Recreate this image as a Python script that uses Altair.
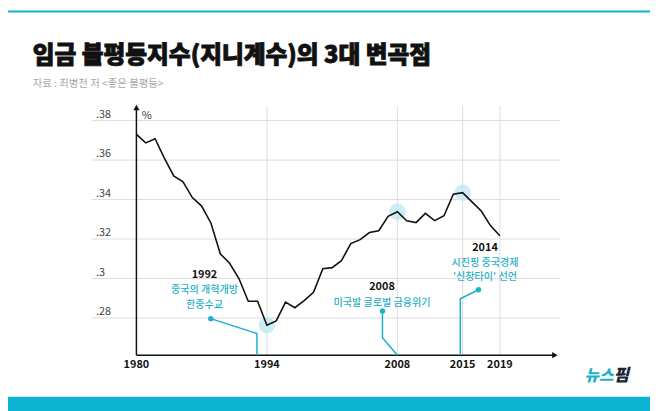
import altair as alt
import pandas as pd

# ---------------- data ----------------
years = list(range(1980, 2020))
gini = [0.373, 0.3687, 0.3708, 0.361, 0.352, 0.349, 0.341, 0.3367, 0.328, 0.3125,
        0.3077, 0.300, 0.2885, 0.2885, 0.2763, 0.2785, 0.288, 0.2852, 0.2888, 0.293,
        0.305, 0.3055, 0.309, 0.3177, 0.3197, 0.3233, 0.3242, 0.3315, 0.3338, 0.3292,
        0.3283, 0.333, 0.3293, 0.3318, 0.3427, 0.3435, 0.3388, 0.3342, 0.3267, 0.3217]

y_ticks = [0.28, 0.30, 0.32, 0.34, 0.36, 0.38]
y_tick_labels = [".28", ".3", ".32", ".34", ".36", ".38"]
x_ticks = [1980, 1994, 2008, 2015, 2019]
highlight_years = [1994, 2008, 2015]

TITLE = "임금 불평등지수(지니계수)의 3대 변곡점"
SUBTITLE = "자료 : 최병천 저 <좋은 불평등>"

# annotation texts
ann_x = [1987.3, 1987.3, 1987.3, 2006.35, 2006.35, 2017.4, 2017.4, 2017.4]
ann_y = [0.3018, 0.2940, 0.2868, 0.2955, 0.2877, 0.3155, 0.3078, 0.3006]
ann_text = ["1992", "중국의 개혁개방", "한중수교", "2008", "미국발 글로벌 금융위기",
            "2014", "시진핑 중국경제", "'신창타이' 선언"]
ann_kind = ["year", "desc", "desc", "year", "desc", "year", "desc", "desc"]

# connector polylines
con_id = ["a", "a", "a", "b", "b", "b", "c", "c", "c"]
con_ord = [0, 1, 2, 0, 1, 2, 0, 1, 2]
con_x = [1987.98, 1992.93, 1992.93, 2006.4, 2006.4, 2008.0, 2016.7, 2014.75, 2014.75]
con_y = [0.27965, 0.27215, 0.26115, 0.2835, 0.2700, 0.26115, 0.2943, 0.2897, 0.26115]
dot_x = [1987.98, 2006.4, 2016.7]
dot_y = [0.27965, 0.2835, 0.2943]

X_MIN, X_MAX = 1975.23, 2025.46
Y_MIN, Y_MAX = 0.26115, 0.38725
X_ARROW, Y_ARROW = 2024.9, 0.3866

W, H = 474, 252
CYAN = "#1fb0c8"
BAR = "#0db4d4"
FONT = "Noto Sans CJK KR"

xs = alt.Scale(domain=[X_MIN, X_MAX], nice=False, zero=False)
ys = alt.Scale(domain=[Y_MIN, Y_MAX], nice=False, zero=False)

def X(f="x"):
    return alt.X(f"{f}:Q", scale=xs, axis=None)

def Y(f="y"):
    return alt.Y(f"{f}:Q", scale=ys, axis=None)

line_df = pd.DataFrame({"x": years, "y": gini})
hl_df = line_df[line_df["x"].isin(highlight_years)]
hgrid_df = pd.DataFrame({"y": y_ticks, "x": [X_MIN] * len(y_ticks), "x2": [X_MAX] * len(y_ticks),
                         "lab": y_tick_labels})
vgrid_df = pd.DataFrame({"x": x_ticks[1:], "y": [Y_MIN] * 4, "y2": [0.3875] * 4})
xlab_df = pd.DataFrame({"x": x_ticks, "y": [Y_MIN] * len(x_ticks), "lab": [str(v) for v in x_ticks]})
ann_df = pd.DataFrame({"x": ann_x, "y": ann_y, "t": ann_text, "k": ann_kind})
con_df = pd.DataFrame({"id": con_id, "o": con_ord, "x": con_x, "y": con_y})
dot_df = pd.DataFrame({"x": dot_x, "y": dot_y})

hgrid = alt.Chart(hgrid_df).mark_rule(color="#dcdcdc", strokeWidth=1).encode(
    x=X(), x2="x2:Q", y=Y())
ylabels = alt.Chart(hgrid_df).mark_text(align="left", baseline="alphabetic", dy=-3,
                                        fontSize=11, color="#444", font=FONT).encode(
    x=alt.value(4), y=Y(), text="lab:N")
vgrid = alt.Chart(vgrid_df).mark_rule(color="#dcdcdc", strokeWidth=1).encode(
    x=X(), y=Y(), y2="y2:Q")

xaxis = alt.Chart(pd.DataFrame({"x": [1980], "x2": [X_ARROW], "y": [Y_MIN]})).mark_rule(
    color="#111", strokeWidth=1.5).encode(x=X(), x2="x2:Q", y=Y())
yaxis = alt.Chart(pd.DataFrame({"x": [1980], "y": [Y_MIN], "y2": [Y_ARROW]})).mark_rule(
    color="#111", strokeWidth=1.5).encode(x=X(), y=Y(), y2="y2:Q")
arr_r = alt.Chart(pd.DataFrame({"x": [X_ARROW], "y": [Y_MIN]})).mark_point(
    shape="triangle-right", filled=True, color="#111", size=40, opacity=1).encode(x=X(), y=Y())
arr_u = alt.Chart(pd.DataFrame({"x": [1980], "y": [Y_ARROW]})).mark_point(
    shape="triangle-up", filled=True, color="#111", size=40, opacity=1).encode(x=X(), y=Y())
pct = alt.Chart(pd.DataFrame({"x": [1981.1], "y": [0.3825], "t": ["%"]})).mark_text(
    fontSize=11, color="#333", font=FONT).encode(x=X(), y=Y(), text="t:N")

halo = alt.Chart(hl_df).mark_circle(color="#bfe8f1", opacity=0.8, size=280).encode(x=X(), y=Y())
line = alt.Chart(line_df).mark_line(color="#111", strokeWidth=1.6).encode(x=X(), y=Y())

xlabels = alt.Chart(xlab_df).mark_text(baseline="middle", dy=10, fontSize=11, fontWeight="bold",
                                       color="#111", font=FONT).encode(x=X(), y=Y(), text="lab:N")

conn = alt.Chart(con_df).mark_line(color=CYAN, strokeWidth=1.5).encode(
    x=X(), y=Y(), detail="id:N", order="o:Q")
dots = alt.Chart(dot_df).mark_circle(color=CYAN, opacity=1, size=30).encode(x=X(), y=Y())

ann_year = alt.Chart(ann_df[ann_df["k"] == "year"]).mark_text(
    fontSize=11, fontWeight="bold", color="#111", font=FONT, baseline="middle").encode(
    x=X(), y=Y(), text="t:N")
ann_desc = alt.Chart(ann_df[ann_df["k"] == "desc"]).mark_text(
    fontSize=10.2, fontWeight=500, color=CYAN, font=FONT, baseline="middle").encode(
    x=X(), y=Y(), text="t:N")

one = pd.DataFrame({"t": [TITLE], "s": [SUBTITLE]})
title = alt.Chart(one).mark_text(align="left", baseline="alphabetic", fontSize=24, fontWeight=900,
                                 color="#111", stroke="#111", strokeWidth=0.9, font=FONT).encode(
    x=alt.value(-60), y=alt.value(-44), text="t:N")
subtitle = alt.Chart(one).mark_text(align="left", baseline="middle", fontSize=10.5,
                                    color="#a8a8a8", font=FONT).encode(
    x=alt.value(-60), y=alt.value(-23), text="s:N")
topbar = alt.Chart(one).mark_rect(color=BAR).encode(
    x=alt.value(-85), x2=alt.value(565), y=alt.value(-97), y2=alt.value(-95))
botbar = alt.Chart(one).mark_rect(color=BAR).encode(
    x=alt.value(-85), x2=alt.value(565), y=alt.value(294), y2=alt.value(310))
logo1 = alt.Chart(pd.DataFrame({"t": ["뉴스"]})).mark_text(
    align="right", baseline="middle", fontSize=16, fontWeight=900, fontStyle="italic",
    color=CYAN, font=FONT).encode(x=alt.value(528), y=alt.value(273), text="t:N")
logo2 = alt.Chart(pd.DataFrame({"t": ["핌"]})).mark_text(
    align="left", baseline="middle", fontSize=17, fontWeight=900, fontStyle="italic",
    color="#1b2533", font=FONT).encode(x=alt.value(528), y=alt.value(273), text="t:N")

chart = alt.layer(
    hgrid, vgrid, ylabels, xaxis, yaxis, arr_r, arr_u, pct, halo, line, xlabels,
    conn, dots, ann_year, ann_desc, title, subtitle, topbar, botbar, logo1, logo2
).properties(
    width=W, height=H,
    autosize=alt.AutoSizeParams(type="none"),
    padding={"left": 85, "top": 97, "right": 91, "bottom": 54},
    background="white",
).configure_view(stroke=None)

chart.save("out.html", embed_options={"renderer": "svg", "actions": False})
